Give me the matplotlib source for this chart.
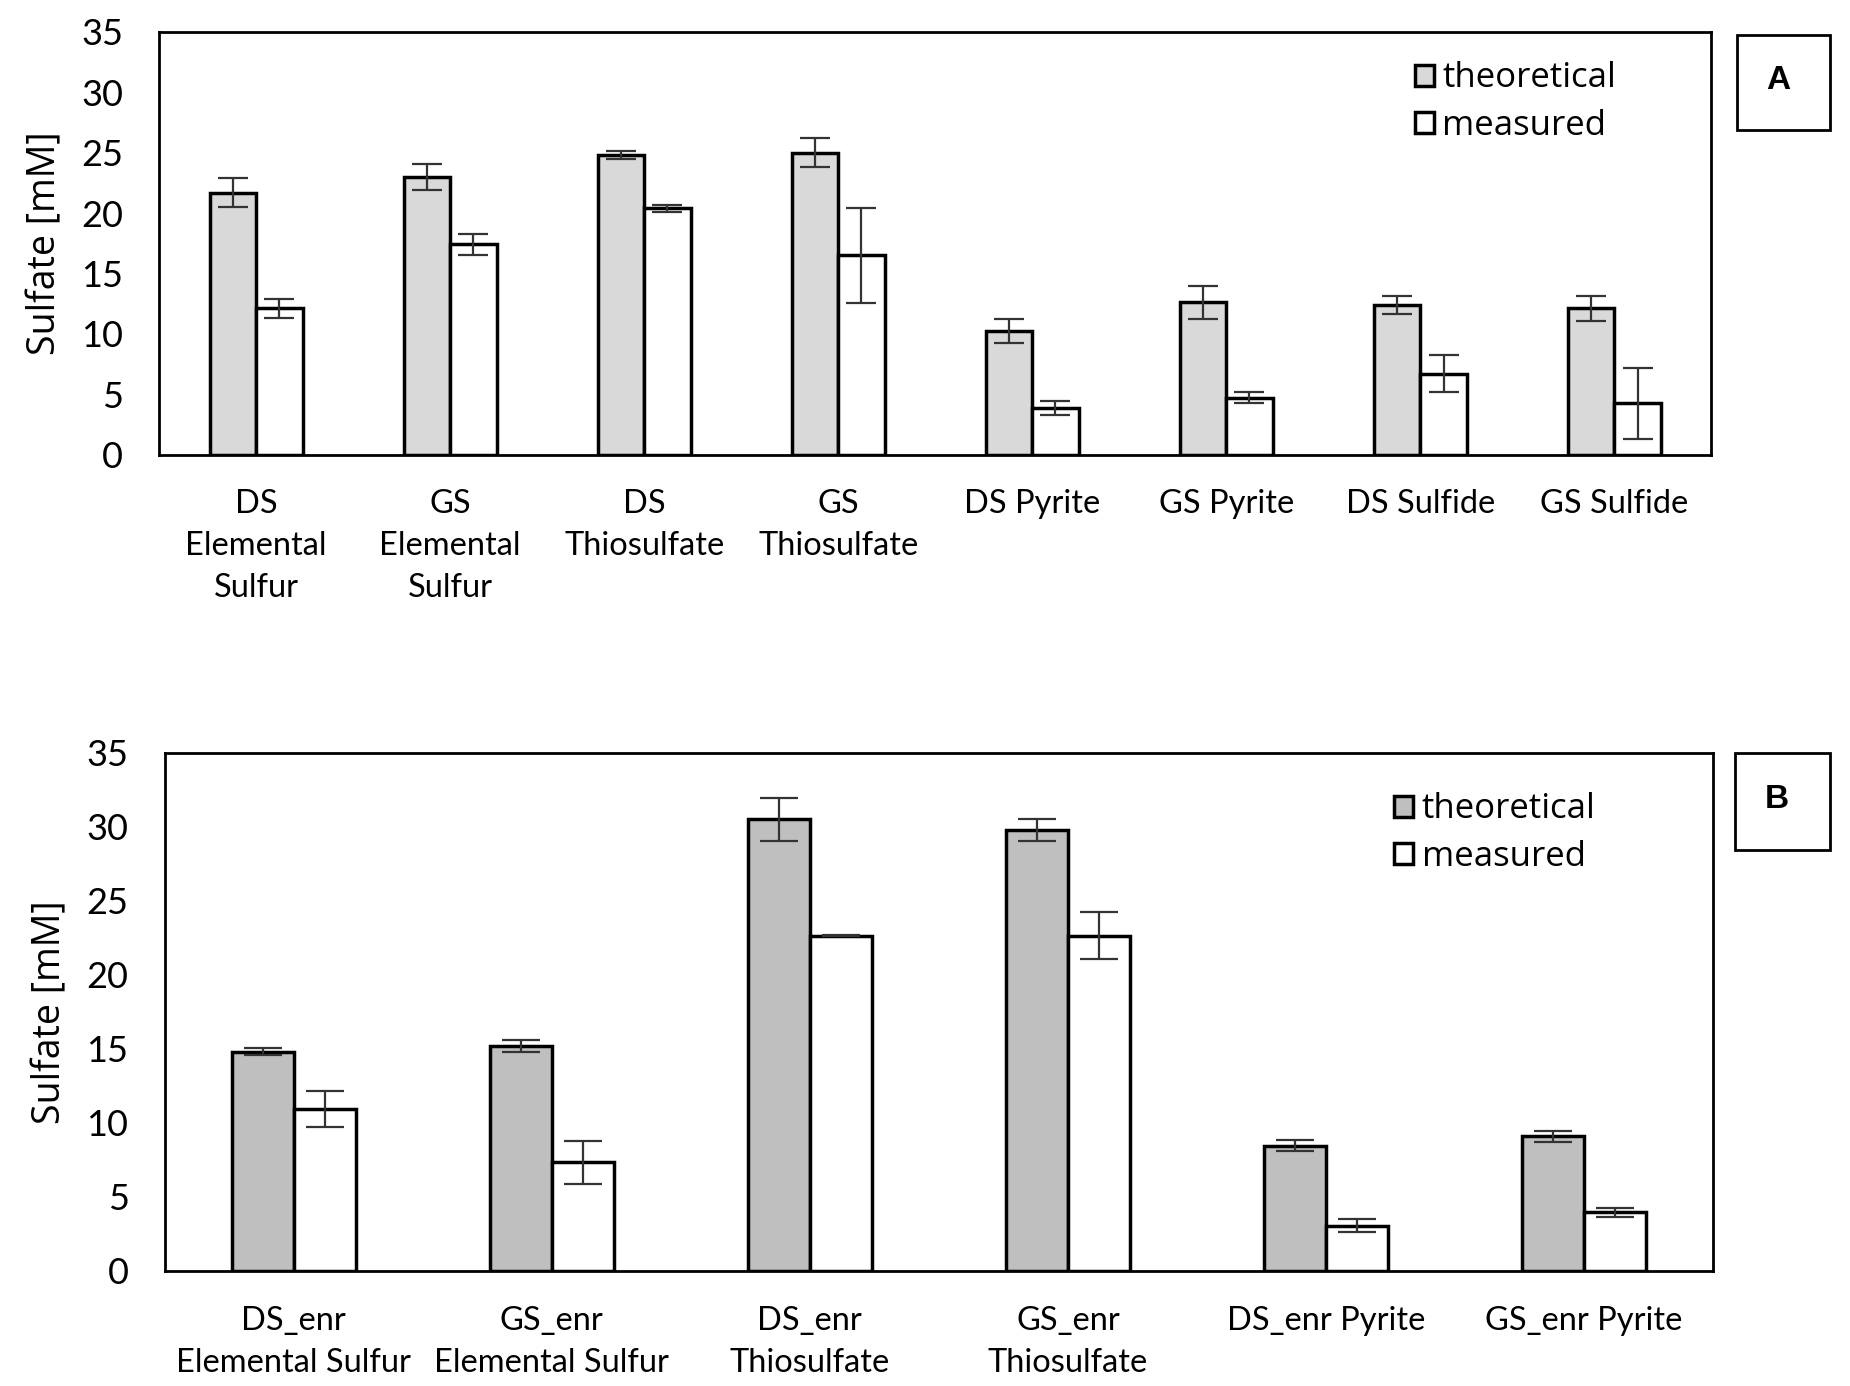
import numpy as np
import matplotlib
matplotlib.use('Agg')
import matplotlib.pyplot as plt
from matplotlib.patches import Rectangle

# Panel A data
catsA = ["DS\nElemental\nSulfur", "GS\nElemental\nSulfur", "DS\nThiosulfate", "GS\nThiosulfate",
         "DS Pyrite", "GS Pyrite", "DS Sulfide", "GS Sulfide"]
theoA = [21.7, 23.0, 24.8, 25.0, 10.2, 12.6, 12.4, 12.1]
theoA_err = [1.2, 1.1, 0.3, 1.2, 1.0, 1.35, 0.75, 1.0]
measA = [12.1, 17.4, 20.4, 16.5, 3.85, 4.7, 6.7, 4.25]
measA_err = [0.75, 0.9, 0.3, 3.95, 0.55, 0.45, 1.55, 2.95]

# Panel B data
catsB = ["DS_enr\nElemental Sulfur", "GS_enr\nElemental Sulfur", "DS_enr\nThiosulfate",
         "GS_enr\nThiosulfate", "DS_enr Pyrite", "GS_enr Pyrite"]
theoB = [14.8, 15.2, 30.5, 29.8, 8.45, 9.1]
theoB_err = [0.25, 0.4, 1.45, 0.75, 0.37, 0.37]
measB = [10.95, 7.35, 22.65, 22.65, 3.05, 3.95]
measB_err = [1.2, 1.45, 0.05, 1.6, 0.45, 0.3]

TICK_FONT = ['Lato', 'DejaVu Sans']
TEXT_FONT = ['Open Sans', 'DejaVu Sans']


def draw_panel(ax, cats, theo, theo_err, meas, meas_err, theo_color, capsize, leg_anchor):
    x = np.arange(len(cats))
    w = 0.24
    ax.bar(x - w / 2, theo, w, color=theo_color, edgecolor='black', linewidth=2.5, label='theoretical')
    ax.bar(x + w / 2, meas, w, color='white', edgecolor='black', linewidth=2.5, label='measured')
    ax.errorbar(x - w / 2, theo, yerr=theo_err, fmt='none', ecolor='#333333', elinewidth=1.6,
                capsize=capsize, capthick=1.6)
    ax.errorbar(x + w / 2, meas, yerr=meas_err, fmt='none', ecolor='#333333', elinewidth=1.6,
                capsize=capsize, capthick=1.6)
    ax.set_xlim(-0.5, len(cats) - 0.5)
    ax.set_ylim(0, 35)
    ax.set_yticks(range(0, 36, 5))
    ax.set_xticks(x)
    ax.set_xticklabels(cats, family=TICK_FONT, fontsize=23.5, linespacing=1.5)
    for lab in ax.get_yticklabels():
        lab.set_family(TICK_FONT)
        lab.set_fontsize(26)
    ax.tick_params(axis='y', length=0, pad=26)
    ax.tick_params(axis='x', length=0, pad=25)
    for sp in ax.spines.values():
        sp.set_linewidth(2.0)
    ax.set_ylabel('Sulfate [mM]', family=TEXT_FONT, fontsize=27, labelpad=12)
    ax.legend(loc='upper left', bbox_to_anchor=leg_anchor, frameon=False,
              prop={'family': TEXT_FONT, 'size': 25}, handlelength=0.55, handleheight=0.55,
              handletextpad=0.25, labelspacing=0.38, borderaxespad=0)


fig = plt.figure(figsize=(18.5, 13.86), dpi=100)
axA = fig.add_axes([0.086, 0.672, 0.839, 0.305])
axB = fig.add_axes([0.089, 0.083, 0.837, 0.374])

draw_panel(axA, catsA, theoA, theoA_err, measA, measA_err, '#d9d9d9', 11, (0.80, 0.963))
draw_panel(axB, catsB, theoB, theoB_err, measB, measB_err, '#bfbfbf', 14, (0.785, 0.95))

# panel letters in boxes
for (x0, y0, w0, h0, letter) in [(0.939, 0.906, 0.050, 0.069, 'A'), (0.938, 0.387, 0.051, 0.070, 'B')]:
    fig.add_artist(Rectangle((x0, y0), w0, h0, transform=fig.transFigure, fill=False,
                             edgecolor='black', linewidth=2.0))
    fig.text(x0 + w0 / 2 - 0.003, y0 + h0 * 0.52, letter, ha='center', va='center',
             family=['Liberation Sans', 'DejaVu Sans'], fontweight='bold', fontsize=24)

fig.savefig('out.png', dpi=100)
